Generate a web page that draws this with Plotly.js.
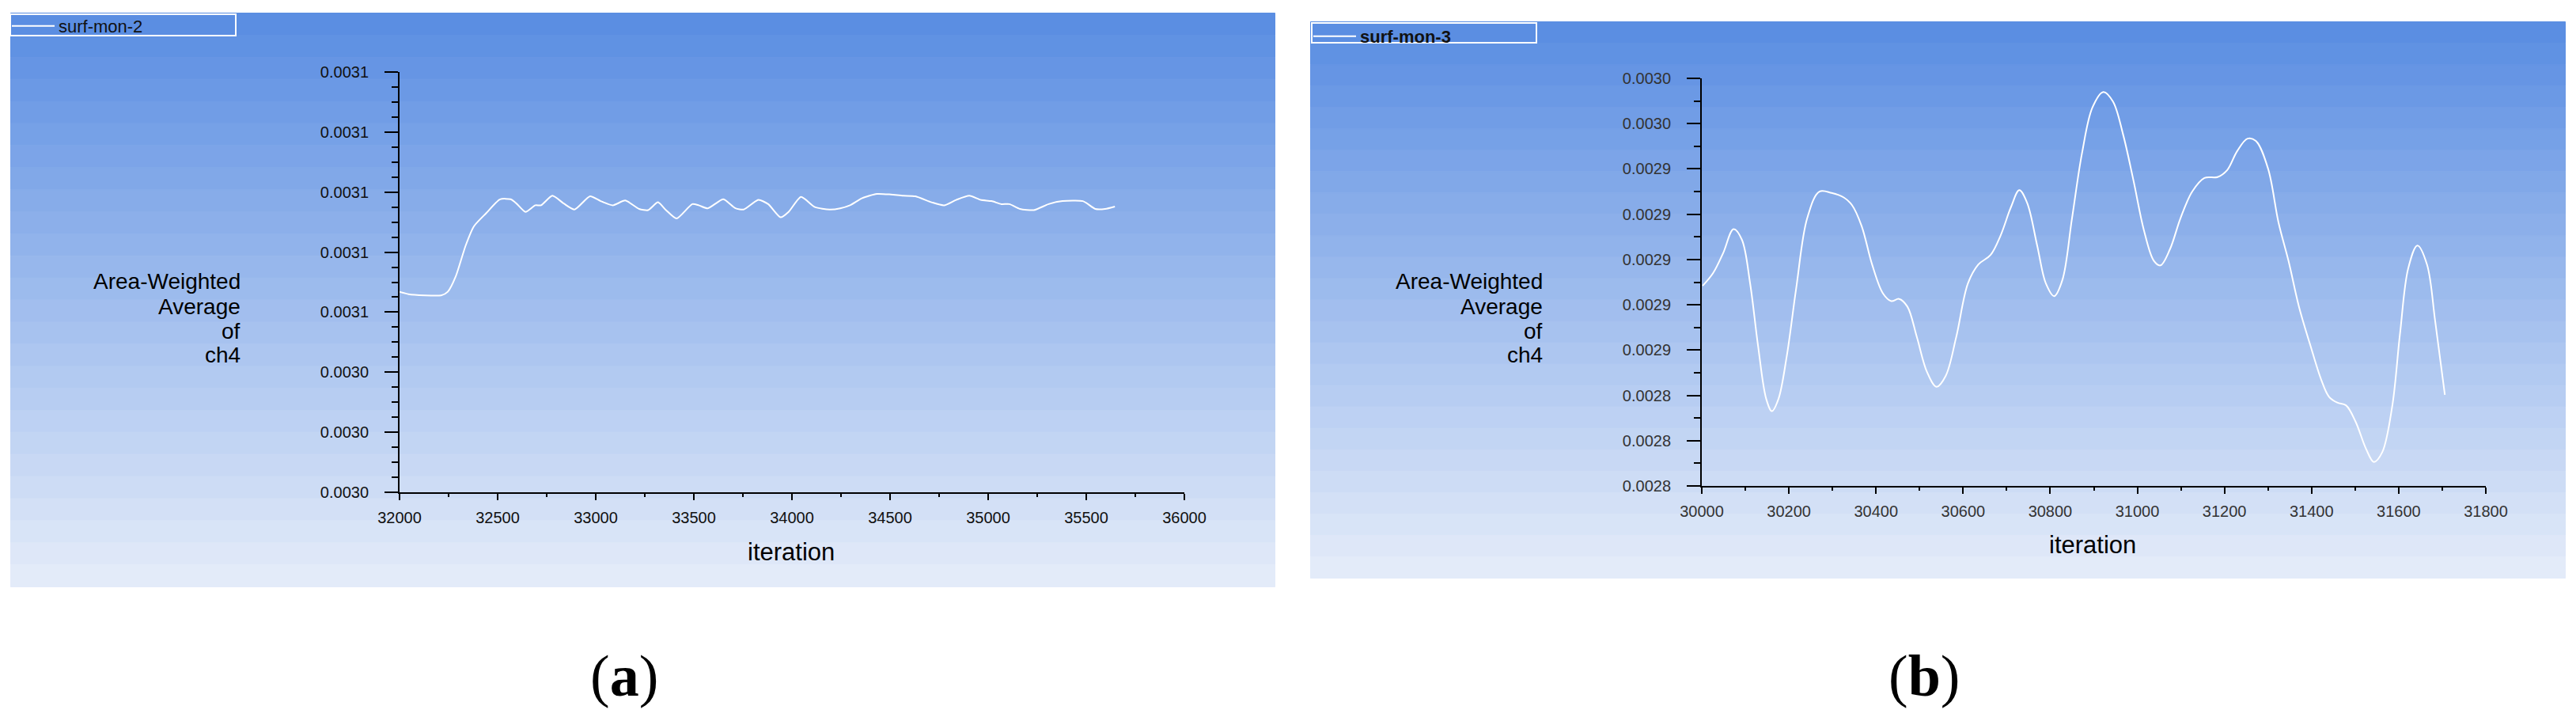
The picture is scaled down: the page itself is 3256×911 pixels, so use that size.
<!DOCTYPE html>
<html>
<head>
<meta charset="utf-8">
<script src="https://cdn.plot.ly/plotly-3.0.1.min.js"></script>
<style>
  html, body { margin: 0; padding: 0; background: #fff; }
  #chart { width: 3256px; height: 911px; }
</style>
</head>
<body>
<div id="chart"></div>
<script>
// (a) surf-mon-2
const iterA = [32000, 32046, 32212, 32246, 32287, 32337, 32379, 32442, 32512, 32567,
  32596, 32642, 32692, 32721, 32779, 32837, 32892, 32971, 33025, 33087,
  33150, 33221, 33267, 33317, 33358, 33412, 33492, 33525, 33571, 33650,
  33712, 33754, 33829, 33879, 33942, 33983, 34046, 34117, 34192, 34246,
  34296, 34358, 34433, 34504, 34567, 34629, 34712, 34775, 34837, 34904,
  34962, 35017, 35067, 35108, 35162, 35233, 35308, 35379, 35483, 35546,
  35596, 35646];
const ch4A = [0.0030584, 0.0030580, 0.0030578, 0.0030584, 0.0030610, 0.0030661, 0.0030693, 0.0030715, 0.0030738, 0.0030738,
  0.0030731, 0.0030717, 0.0030728, 0.0030728, 0.0030744, 0.0030731, 0.0030721, 0.0030743, 0.0030735, 0.0030728,
  0.0030736, 0.0030722, 0.0030720, 0.0030733, 0.0030720, 0.0030706, 0.0030730, 0.0030728, 0.0030723, 0.0030738,
  0.0030723, 0.0030721, 0.0030737, 0.0030730, 0.0030708, 0.0030717, 0.0030742, 0.0030725, 0.0030721, 0.0030723,
  0.0030728, 0.0030740, 0.0030747, 0.0030746, 0.0030744, 0.0030743, 0.0030733, 0.0030728, 0.0030737, 0.0030744,
  0.0030737, 0.0030735, 0.0030730, 0.0030730, 0.0030722, 0.0030720, 0.0030730, 0.0030735, 0.0030735, 0.0030722,
  0.0030722, 0.0030726];

// (b) surf-mon-3
const iterB = [30002, 30026, 30049, 30073, 30092, 30111, 30129, 30148, 30161, 30176,
  30195, 30217, 30242, 30270, 30298, 30326, 30345, 30367, 30391, 30416,
  30435, 30453, 30472, 30494, 30517, 30539, 30560, 30584, 30611, 30635,
  30663, 30686, 30710, 30729, 30747, 30770, 30790, 30809, 30828, 30850,
  30873, 30897, 30922, 30944, 30967, 30991, 31015, 31038, 31053, 31075,
  31099, 31126, 31154, 31184, 31206, 31229, 31253, 31272, 31300, 31324,
  31347, 31371, 31397, 31422, 31440, 31459, 31479, 31501, 31525, 31543,
  31562, 31585, 31603, 31622, 31643, 31665, 31684, 31706];
const ch4B = [0.0028884, 0.0028940, 0.0029028, 0.0029134, 0.0029088, 0.0028894, 0.0028622, 0.0028384, 0.0028330, 0.0028384,
  0.0028572, 0.0028876, 0.0029182, 0.0029300, 0.0029294, 0.0029274, 0.0029240, 0.0029148, 0.0028978, 0.0028850,
  0.0028816, 0.0028826, 0.0028792, 0.0028656, 0.0028504, 0.0028438, 0.0028486, 0.0028656, 0.0028894, 0.0028978,
  0.0029020, 0.0029106, 0.0029232, 0.0029306, 0.0029250, 0.0029062, 0.0028894, 0.0028838, 0.0028910, 0.0029182,
  0.0029470, 0.0029672, 0.0029740, 0.0029698, 0.0029554, 0.0029350, 0.0029130, 0.0028994, 0.0028974, 0.0029046,
  0.0029182, 0.0029300, 0.0029360, 0.0029364, 0.0029394, 0.0029478, 0.0029534, 0.0029524, 0.0029402, 0.0029164,
  0.0028994, 0.0028792, 0.0028622, 0.0028470, 0.0028394, 0.0028368, 0.0028356, 0.0028284, 0.0028164, 0.0028106,
  0.0028148, 0.0028350, 0.0028672, 0.0028962, 0.0029062, 0.0028978, 0.0028724, 0.0028402];

// ticks
const xTicksA = [32000, 32500, 33000, 33500, 34000, 34500, 35000, 35500, 36000];
const yTicksA = [0.003025, 0.003035, 0.003045, 0.003055, 0.003065, 0.003075, 0.003085, 0.003095];
const yLabelsA = ['0.0030', '0.0030', '0.0030', '0.0031', '0.0031', '0.0031', '0.0031', '0.0031'];
const xTicksB = [30000, 30200, 30400, 30600, 30800, 31000, 31200, 31400, 31600, 31800];
const yTicksB = [0.00280, 0.00282, 0.00284, 0.00286, 0.00288, 0.00290, 0.00292, 0.00294, 0.00296, 0.00298];
const yLabelsB = ['0.0028', '0.0028', '0.0028', '0.0029', '0.0029', '0.0029', '0.0029', '0.0029', '0.0030', '0.0030'];

const seriesNames = ['surf-mon-2', 'surf-mon-3'];
const yTitleLines = ['Area-Weighted', 'Average', 'of', 'ch4'];
const xTitle = 'iteration';
const captions = ['(<b>a</b>)', '(<b>b</b>)'];

const W = 3256, H = 911;
const px = x => x / W;
const py = y => 1 - y / H;
const SANS = 'Liberation Sans, Arial, sans-serif';

// banded blue gradient like the Fluent window background
function gradient(x0, y0, x1, y1, n) {
  const top = [91, 142, 226], bot = [227, 235, 249];
  const out = [];
  for (let i = 0; i < n; i++) {
    const t = i / (n - 1);
    const c = `rgb(${top.map((v, k) => Math.round(v + (bot[k] - v) * t)).join(',')})`;
    out.push({
      type: 'rect', xref: 'paper', yref: 'paper', layer: 'below',
      x0: px(x0 + 0.5), x1: px(x1 - 0.5),
      y0: py(y0 + 0.5 + (y1 - y0 - 1) * i / n), y1: py(y0 + 0.5 + (y1 - y0 - 1) * (i + 1) / n),
      fillcolor: c, line: { color: c, width: 1 }
    });
  }
  return out;
}

const shapes = [
  ...gradient(13, 16, 1612, 742, 26),
  ...gradient(1656, 27, 3243, 731, 26),
  { type: 'rect', xref: 'paper', yref: 'paper', x0: px(13), x1: px(298), y0: py(18), y1: py(45),
    line: { color: 'white', width: 2 }, fillcolor: 'rgba(0,0,0,0)' },
  { type: 'rect', xref: 'paper', yref: 'paper', x0: px(1658), x1: px(1942), y0: py(29), y1: py(54),
    line: { color: 'white', width: 2 }, fillcolor: 'rgba(0,0,0,0)' }
];

const traces = [
  { x: iterA, y: ch4A, name: seriesNames[0], mode: 'lines', type: 'scatter',
    line: { color: 'white', width: 2, shape: 'spline', smoothing: 0.6 },
    xaxis: 'x', yaxis: 'y', legend: 'legend' },
  { x: iterB, y: ch4B, name: seriesNames[1], mode: 'lines', type: 'scatter',
    line: { color: 'white', width: 2, shape: 'spline', smoothing: 1 },
    xaxis: 'x2', yaxis: 'y2', legend: 'legend2' }
];

function xAxis(dom, range, ticks, minorStep, anchor, color) {
  return {
    domain: dom, range: range, anchor: anchor,
    tickmode: 'array', tickvals: ticks, ticktext: ticks.map(String),
    ticks: 'outside', ticklen: 8, tickwidth: 2, tickcolor: 'black',
    showline: true, linecolor: 'black', linewidth: 2,
    showgrid: false, zeroline: false, ticklabelstandoff: 5,
    tickfont: { family: SANS, size: 20, color: color },
    minor: { tick0: range[0], dtick: minorStep, ticks: 'outside', ticklen: 4, tickwidth: 2, tickcolor: 'black', showgrid: false }
  };
}
function yAxis(dom, range, ticks, labels, minorStep, anchor, color) {
  return {
    domain: dom, range: range, anchor: anchor,
    tickmode: 'array', tickvals: ticks, ticktext: labels,
    ticks: 'outside', ticklen: 17, tickwidth: 2, tickcolor: 'black',
    showline: true, linecolor: 'black', linewidth: 2,
    showgrid: false, zeroline: false, ticklabelstandoff: 16,
    tickfont: { family: SANS, size: 20, color: color },
    minor: { tick0: range[0], dtick: minorStep, ticks: 'outside', ticklen: 8, tickwidth: 2, tickcolor: 'black', showgrid: false }
  };
}

const annotations = [];
function titles(rightX, ys, cx, cy) {
  yTitleLines.forEach((t, i) => annotations.push({
    xref: 'paper', yref: 'paper', x: px(rightX), y: py(ys[i]), xanchor: 'right', yanchor: 'middle',
    text: t, showarrow: false, font: { family: SANS, size: 28, color: 'black' }
  }));
  annotations.push({
    xref: 'paper', yref: 'paper', x: px(cx), y: py(cy), xanchor: 'center', yanchor: 'middle',
    text: xTitle, showarrow: false, font: { family: SANS, size: 31, color: 'black' }
  });
}
titles(306, [356, 387, 418, 449], 1000, 697);
titles(1952, [356, 387, 418, 449], 2645, 688);
annotations.push(
  { xref: 'paper', yref: 'paper', x: px(789), y: py(854), xanchor: 'center', yanchor: 'middle',
    text: captions[0], showarrow: false, font: { family: 'Liberation Serif, Times New Roman, serif', size: 74, color: 'black' } },
  { xref: 'paper', yref: 'paper', x: px(2432), y: py(854), xanchor: 'center', yanchor: 'middle',
    text: captions[1], showarrow: false, font: { family: 'Liberation Serif, Times New Roman, serif', size: 74, color: 'black' } }
);

const layout = {
  width: W, height: H,
  margin: { l: 0, r: 0, t: 0, b: 0 },
  paper_bgcolor: 'white', plot_bgcolor: 'rgba(0,0,0,0)',
  showlegend: true,
  xaxis: xAxis([px(505), px(1497)], [32000, 36000], xTicksA, 250, 'y', '#111'),
  yaxis: yAxis([py(622), py(91)], [0.003025, 0.003095], yTicksA, yLabelsA, 0.0000025, 'x', '#111'),
  xaxis2: xAxis([px(2151), px(3142)], [30000, 31800], xTicksB, 100, 'y2', '#333'),
  yaxis2: yAxis([py(614), py(99)], [0.00280, 0.00298], yTicksB, yLabelsB, 0.00001, 'x2', '#333'),
  legend: { x: px(10), y: py(12), xanchor: 'left', yanchor: 'top', bgcolor: 'rgba(0,0,0,0)', borderwidth: 0,
    itemwidth: 54, font: { family: SANS, size: 22, color: '#111' } },
  legend2: { x: px(1655), y: py(25), xanchor: 'left', yanchor: 'top', bgcolor: 'rgba(0,0,0,0)', borderwidth: 0,
    itemwidth: 54, font: { family: SANS, size: 22, color: '#111', weight: 'bold' } },
  shapes: shapes,
  annotations: annotations
};

Plotly.newPlot('chart', traces, layout, { displayModeBar: false, staticPlot: true });
</script>
</body>
</html>
